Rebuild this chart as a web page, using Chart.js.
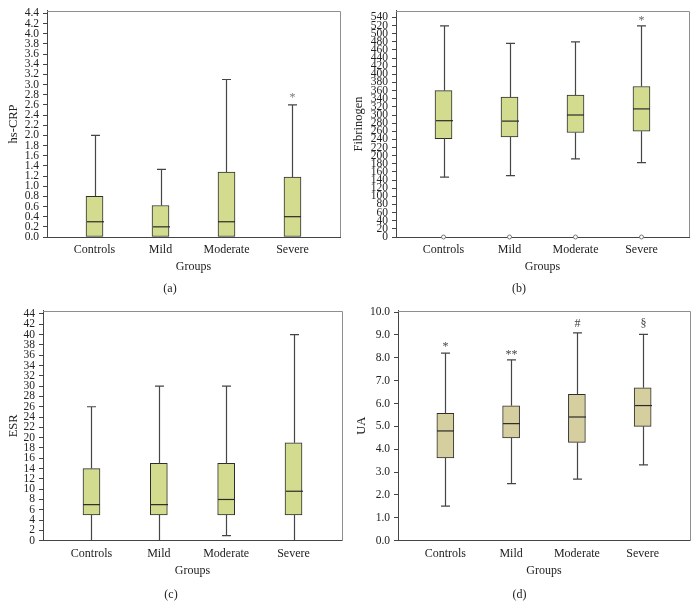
<!DOCTYPE html>
<html>
<head>
<meta charset="utf-8">
<script src="https://cdn.jsdelivr.net/npm/chart.js@4/dist/chart.umd.min.js"></script>
<style>
  body { margin: 0; background: #fff; }
  canvas { position: absolute; }
</style>
</head>
<body>
<canvas id="chartA" width="349" height="300" style="left:0;top:0"></canvas>
<canvas id="chartB" width="349" height="300" style="left:349px;top:0"></canvas>
<canvas id="chartC" width="349" height="314" style="left:0;top:300px"></canvas>
<canvas id="chartD" width="349" height="314" style="left:349px;top:300px"></canvas>
<script>
const groups = ['Controls', 'Mild', 'Moderate', 'Severe'];

// (a) hs-CRP
const crpLow = [0, 0, 0, 0];
const crpQ1 = [0, 0, 0, 0];
const crpMedian = [0.3, 0.2, 0.3, 0.4];
const crpQ3 = [0.8, 0.62, 1.28, 1.18];
const crpHigh = [2.0, 1.33, 3.1, 2.6];
const crpMarks = ['', '', '', '*'];
const crpMarkAt = [null, null, null, 2.79];

// (b) Fibrinogen
const fibLow = [147, 151, 192, 183];
const fibQ1 = [242, 246, 257, 260];
const fibMedian = [286, 285, 300, 315];
const fibQ3 = [360, 344, 349, 370];
const fibHigh = [519, 476, 480, 519];
const fibOutliers = [0, 0, 0, 0];
const fibMarks = ['', '', '', '*'];
const fibMarkAt = [null, null, null, 540];

// (c) ESR
const esrLow = [0, 0, 1, 0];
const esrQ1 = [5, 5, 5, 5];
const esrMedian = [7, 7, 8, 9.6];
const esrQ3 = [14, 15, 15, 19];
const esrHigh = [26, 30, 30, 40];

// (d) UA
const uaLow = [1.51, 2.5, 2.69, 3.32];
const uaQ1 = [3.62, 4.5, 4.3, 5.0];
const uaMedian = [4.8, 5.12, 5.41, 5.91];
const uaQ3 = [5.57, 5.9, 6.4, 6.69];
const uaHigh = [8.2, 7.91, 9.09, 9.02];
const uaMarks = ['*', '**', '#', '\u00a7'];
const uaMarkAt = [8.6, 8.26, 9.5, 9.5];

const serif = "'Liberation Serif', 'DejaVu Serif', serif";
const textColor = '#222';

function drawPanel(id, cfg) {
  const boxPlugin = {
    id: 'box_' + id,
    beforeDatasetsDraw(chart) {
      // grey frame on the top and right of the plot
      const a = chart.chartArea;
      const ctx = chart.ctx;
      ctx.save();
      ctx.strokeStyle = '#8f8f8f';
      ctx.lineWidth = 1;
      ctx.beginPath();
      ctx.moveTo(Math.round(a.left), Math.round(a.top) + 0.5);
      ctx.lineTo(Math.round(a.right) + 0.5, Math.round(a.top) + 0.5);
      ctx.lineTo(Math.round(a.right) + 0.5, Math.round(a.bottom));
      ctx.stroke();
      ctx.restore();
    },
    afterDatasetsDraw(chart) {
      const {ctx, scales: {x, y}} = chart;
      const half = 8.5, cap = 4.5;
      ctx.save();
      ctx.strokeStyle = '#454545';
      ctx.lineWidth = 1.2;
      groups.forEach((g, i) => {
        const cx = Math.round(x.getPixelForValue(i)) + 0.5;
        const yHigh = y.getPixelForValue(cfg.high[i]);
        const yQ3 = y.getPixelForValue(cfg.q3[i]);
        const yQ1 = y.getPixelForValue(cfg.q1[i]);
        const yLow = y.getPixelForValue(cfg.low[i]);
        const yMed = y.getPixelForValue(cfg.median[i]);
        ctx.beginPath();
        ctx.moveTo(cx, yHigh); ctx.lineTo(cx, yQ3);
        ctx.moveTo(cx - cap, yHigh); ctx.lineTo(cx + cap, yHigh);
        if (cfg.low[i] < cfg.q1[i]) {
          ctx.moveTo(cx, yQ1); ctx.lineTo(cx, yLow);
          if (cfg.low[i] > 0) {
            ctx.moveTo(cx - cap, yLow); ctx.lineTo(cx + cap, yLow);
          }
        }
        ctx.stroke();
        ctx.beginPath();
        ctx.strokeStyle = '#2a2a2a';
        ctx.moveTo(cx - half, yMed); ctx.lineTo(cx + half, yMed);
        ctx.stroke();
        ctx.strokeStyle = '#454545';

        if (cfg.marks && cfg.marks[i]) {
          ctx.fillStyle = cfg.markColor;
          ctx.font = '12px ' + serif;
          ctx.textAlign = 'center';
          ctx.textBaseline = 'middle';
          const off = cfg.marks[i].indexOf('*') >= 0 ? 3 : 0;
          ctx.fillText(cfg.marks[i], cx, y.getPixelForValue(cfg.markAt[i]) + off);
        }
      });
      ctx.restore();
    }
  };

  const datasets = [{
    type: 'bar',
    data: groups.map((g, i) => ({x: i, y: [cfg.q1[i], cfg.q3[i]]})),
    backgroundColor: cfg.fill,
    borderColor: '#2e2e2e',
    borderWidth: 1,
    borderSkipped: false,
    barThickness: 17
  }];
  if (cfg.outliers) {
    datasets.push({
      type: 'scatter',
      data: groups.map((g, i) => ({x: i, y: cfg.outliers[i]})),
      pointStyle: 'circle',
      pointRadius: 2,
      backgroundColor: '#fff',
      borderColor: '#777',
      borderWidth: 1,
      clip: false
    });
  }

  new Chart(document.getElementById(id), {
    type: 'bar',
    data: {datasets},
    options: {
      responsive: false,
      animation: false,
      layout: {padding: {left: 0, top: cfg.top, right: cfg.right, bottom: 0}},
      plugins: {
        legend: {display: false},
        tooltip: {enabled: false},
        title: {
          display: true,
          position: 'bottom',
          text: cfg.tag,
          color: textColor,
          font: {family: serif, size: 12, weight: 'normal'},
          padding: {top: 0, bottom: cfg.tagPad}
        }
      },
      scales: {
        x: {
          type: 'linear',
          offset: false,
          min: -0.72,
          max: 3.72,
          afterBuildTicks: s => { s.ticks = groups.map((g, i) => ({value: i})); },
          afterFit: s => { s.height = cfg.xHeight; },
          grid: {display: false, drawTicks: false},
          border: {color: '#444', width: 1},
          ticks: {
            callback: v => groups[v],
            color: textColor,
            padding: cfg.tickPad,
            maxRotation: 0,
            font: {family: serif, size: 12}
          },
          title: {
            display: true,
            text: 'Groups',
            color: textColor,
            font: {family: serif, size: 12},
            padding: {top: 0, bottom: cfg.groupsPad}
          }
        },
        y: {
          min: 0,
          max: cfg.max,
          afterFit: s => { s.width = cfg.yWidth; },
          grid: {drawOnChartArea: false, drawTicks: true, tickLength: 4, color: '#444'},
          border: {color: '#444', width: 1},
          ticks: {
            stepSize: cfg.step,
            includeBounds: false,
            autoSkip: false,
            padding: 4,
            color: textColor,
            font: {family: serif, size: 11.5},
            callback: v => v.toFixed(cfg.decimals)
          },
          title: {
            display: true,
            text: cfg.label,
            color: textColor,
            font: {family: serif, size: 12.5},
            padding: {top: cfg.labelPad, bottom: 0}
          }
        }
      }
    },
    plugins: [boxPlugin]
  });
}

const greenFill = '#d3dc8e';
const tanFill = '#d5cf9f';

drawPanel('chartA', {
  label: 'hs-CRP', tag: '(a)', max: 4.45, step: 0.2, decimals: 1,
  low: crpLow, q1: crpQ1, median: crpMedian, q3: crpQ3, high: crpHigh,
  marks: crpMarks, markAt: crpMarkAt, markColor: '#777', fill: greenFill,
  top: 8, right: 9, yWidth: 47, xHeight: 44.8, tagPad: 3.8,
  tickPad: 6, groupsPad: 7.6, labelPad: 5.8
});

drawPanel('chartB', {
  label: 'Fibrinogen', tag: '(b)', max: 556, step: 20, decimals: 0,
  low: fibLow, q1: fibQ1, median: fibMedian, q3: fibQ3, high: fibHigh,
  outliers: fibOutliers, marks: fibMarks, markAt: fibMarkAt, markColor: '#666', fill: greenFill,
  top: 6, right: 9, yWidth: 47, xHeight: 44.8, tagPad: 3.8,
  tickPad: 6, groupsPad: 7.6, labelPad: 2
});

drawPanel('chartC', {
  label: 'ESR', tag: '(c)', max: 44.6, step: 2, decimals: 0,
  low: esrLow, q1: esrQ1, median: esrMedian, q3: esrQ3, high: esrHigh,
  fill: greenFill,
  top: 7, right: 7, yWidth: 43, xHeight: 47.1, tagPad: 11.8,
  tickPad: 5.7, groupsPad: 9.9, labelPad: 6
});

drawPanel('chartD', {
  label: 'UA', tag: '(d)', max: 10.05, step: 1, decimals: 1,
  low: uaLow, q1: uaQ1, median: uaMedian, q3: uaQ3, high: uaHigh,
  marks: uaMarks, markAt: uaMarkAt, markColor: '#444', fill: tanFill,
  top: 8, right: 8, yWidth: 49, xHeight: 47.1, tagPad: 11.8,
  tickPad: 5.7, groupsPad: 9.9, labelPad: 5
});
</script>
</body>
</html>
